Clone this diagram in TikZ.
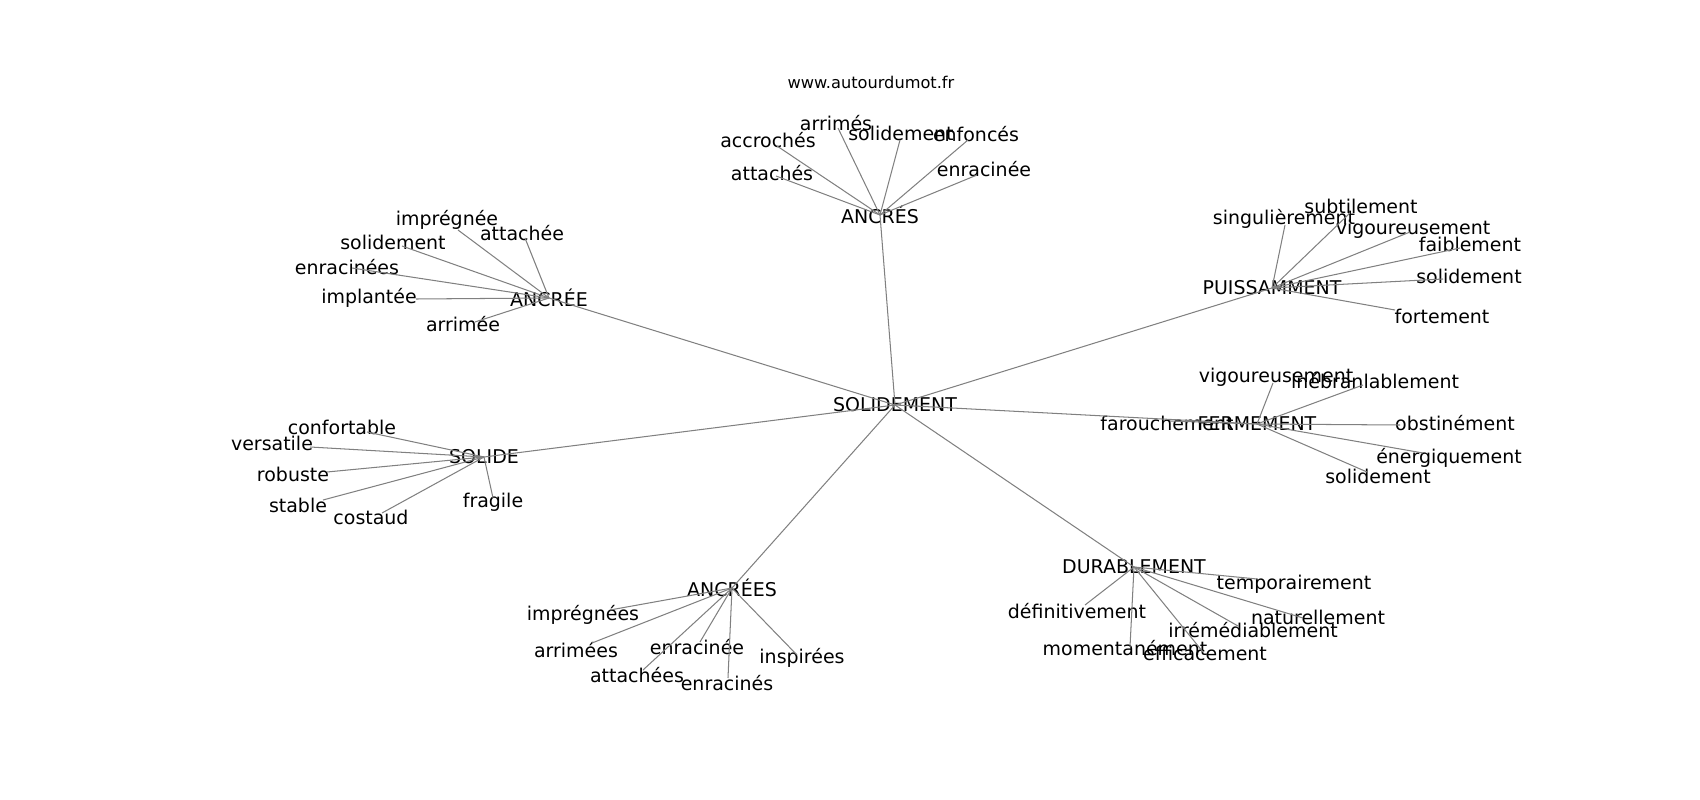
\documentclass[tikz,border=0pt]{standalone}
\usepackage{fontspec}
\setmainfont{DejaVu Sans}
\definecolor{edgegray}{RGB}{128,128,128}

\begin{document}
\begin{tikzpicture}[
  x=0.01in, y=-0.01in,
  word/.style={font=\fontsize{13.7}{16}\selectfont, inner sep=0pt, text=black},
  site/.style={font=\fontsize{11.7}{14}\selectfont, inner sep=0pt, text=black},
  edge/.style={draw=edgegray, line width=0.75pt}
]
  \useasboundingbox (0,0) rectangle (1700,800);

  \node[site] (title) at (871,82) {www.autourdumot.fr};

  % Centre + hubs
  \node[word] (sol)     at (895,405)  {SOLIDEMENT};
  \node[word] (ancres)  at (880,215)  {ANCRÉS};
  \node[word] (ancree)  at (549,298)  {ANCRÉE};
  \node[word] (puiss)   at (1272,288) {PUISSAMMENT};
  \node[word] (ferm)    at (1257,424) {FERMEMENT};
  \node[word] (solide)  at (484,457)  {SOLIDE};
  \node[word] (ancrees) at (732,588)  {ANCRÉES};
  \node[word] (durab)   at (1134,567) {DURABLEMENT};

  % ANCRÉS
  \node[word] (as-arr) at (836,123) {arrimés};        \coordinate (as-arr-e) at (838,128);
  \node[word] (as-sol) at (901,133) {solidement};     \coordinate (as-sol-e) at (900,140);
  \node[word] (as-enf) at (976,134) {enfoncés};       \coordinate (as-enf-e) at (968,140);
  \node[word] (as-acc) at (768,140) {accrochés};      \coordinate (as-acc-e) at (777,146);
  \node[word] (as-att) at (772,173) {attachés};       \coordinate (as-att-e) at (776,176);
  \node[word] (as-enr) at (984,169) {enracinée};      \coordinate (as-enr-e) at (977,175);

  % ANCRÉE
  \node[word] (ae-imp) at (447,220) {imprégnée};      \coordinate (ae-imp-e) at (458,230);
  \node[word] (ae-att) at (522,233) {attachée};       \coordinate (ae-att-e) at (525,238);
  \node[word] (ae-sol) at (393,242) {solidement};     \coordinate (ae-sol-e) at (402,246);
  \node[word] (ae-enr) at (347,267) {enracinées};     \coordinate (ae-enr-e) at (352,268);
  \node[word] (ae-imp2) at (369,298) {implantée};     \coordinate (ae-imp2-e) at (416,299);
  \node[word] (ae-arr) at (463,324) {arrimée};        \coordinate (ae-arr-e) at (475,322);

  % PUISSAMMENT
  \node[word] (pu-sin) at (1284,219) {singulièrement}; \coordinate (pu-sin-e) at (1285,225);
  \node[word] (pu-sub) at (1361,206) {subtilement};    \coordinate (pu-sub-e) at (1350,213);
  \node[word] (pu-vig) at (1413,229) {vigoureusement}; \coordinate (pu-vig-e) at (1410,232);
  \node[word] (pu-fai) at (1470,244) {faiblement};     \coordinate (pu-fai-e) at (1460,248);
  \node[word] (pu-sol) at (1469,276) {solidement};     \coordinate (pu-sol-e) at (1443,279);
  \node[word] (pu-for) at (1442,316) {fortement};      \coordinate (pu-for-e) at (1395,310);

  % FERMEMENT
  \node[word] (fe-far) at (1167,423) {farouchement};     \coordinate (fe-far-e) at (1170,421);
  \node[word] (fe-vig) at (1276,377) {vigoureusement};   \coordinate (fe-vig-e) at (1273,383);
  \node[word] (fe-ine) at (1375,381) {inébranlablement}; \coordinate (fe-ine-e) at (1363,385);
  \node[word] (fe-obs) at (1455,423) {obstinément};      \coordinate (fe-obs-e) at (1400,425);
  \node[word] (fe-ene) at (1449,458) {énergiquement};    \coordinate (fe-ene-e) at (1423,453);
  \node[word] (fe-sol) at (1378,476) {solidement};       \coordinate (fe-sol-e) at (1367,472);

  % SOLIDE
  \node[word] (so-con) at (342,427) {confortable};    \coordinate (so-con-e) at (367,432);
  \node[word] (so-ver) at (272,443) {versatile};      \coordinate (so-ver-e) at (310,447);
  \node[word] (so-rob) at (293,474) {robuste};        \coordinate (so-rob-e) at (327,472);
  \node[word] (so-sta) at (298,505) {stable};         \coordinate (so-sta-e) at (323,500);
  \node[word] (so-cos) at (371,517) {costaud};        \coordinate (so-cos-e) at (382,513);
  \node[word] (so-fra) at (493,502) {fragile};        \coordinate (so-fra-e) at (493,498);

  % ANCRÉES
  \node[word] (as2-imp) at (583,615) {imprégnées};    \coordinate (as2-imp-e) at (610,610);
  \node[word] (as2-arr) at (576,650) {arrimées};      \coordinate (as2-arr-e) at (592,643);
  \node[word] (as2-enr) at (697,647) {enracinée};     \coordinate (as2-enr-e) at (700,642);
  \node[word] (as2-ins) at (802,658) {inspirées};     \coordinate (as2-ins-e) at (797,655);
  \node[word] (as2-att) at (637,675) {attachées};     \coordinate (as2-att-e) at (643,670);
  \node[word] (as2-ens) at (727,683) {enracinés};     \coordinate (as2-ens-e) at (728,678);

  % DURABLEMENT
  \node[word] (du-tem) at (1294,584) {temporairement};   \coordinate (du-tem-e) at (1257,579);
  \node[word] (du-def) at (1077,611) {définitivement};   \coordinate (du-def-e) at (1085,605);
  \node[word] (du-nat) at (1318,617) {naturellement};    \coordinate (du-nat-e) at (1303,618);
  \node[word] (du-irr) at (1253,630) {irrémédiablement}; \coordinate (du-irr-e) at (1238,626);
  \node[word] (du-mom) at (1125,648) {momentanément};    \coordinate (du-mom-e) at (1130,647);
  \node[word] (du-eff) at (1205,653) {efficacement};     \coordinate (du-eff-e) at (1203,652);

  % Edges
  \foreach \h in {ancres, ancree, puiss, ferm, solide, ancrees, durab}
    \draw[edge] (sol.center) -- (\h.center);
  \foreach \e in {arr, sol, enf, acc, att, enr}
    \draw[edge] (ancres.center) -- (as-\e-e);
  \foreach \e in {imp, att, sol, enr, imp2, arr}
    \draw[edge] (ancree.center) -- (ae-\e-e);
  \foreach \e in {sin, sub, vig, fai, sol, for}
    \draw[edge] (puiss.center) -- (pu-\e-e);
  \foreach \e in {far, vig, ine, obs, ene, sol}
    \draw[edge] (ferm.center) -- (fe-\e-e);
  \foreach \e in {con, ver, rob, sta, cos, fra}
    \draw[edge] (solide.center) -- (so-\e-e);
  \foreach \e in {imp, arr, enr, ins, att, ens}
    \draw[edge] (ancrees.center) -- (as2-\e-e);
  \foreach \e in {tem, def, nat, irr, mom, eff}
    \draw[edge] (durab.center) -- (du-\e-e);
\end{tikzpicture}
\end{document}
